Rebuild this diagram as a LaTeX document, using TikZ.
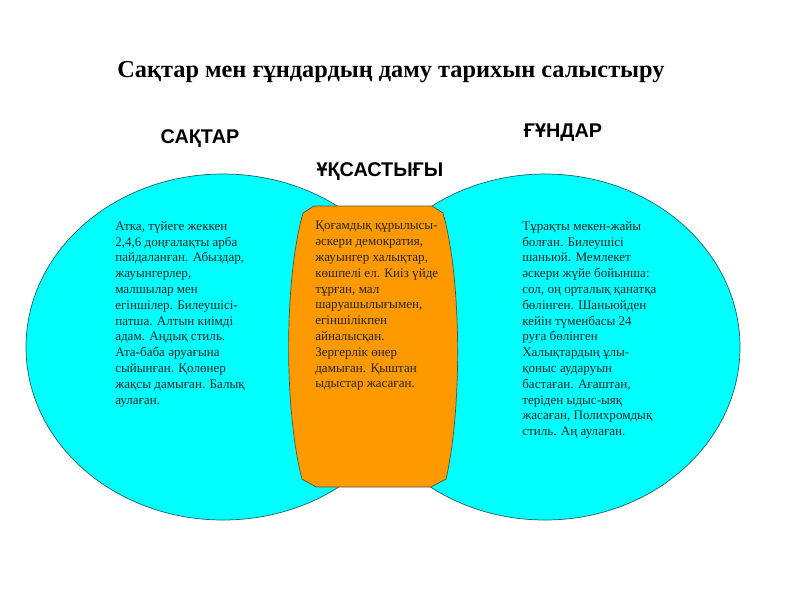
\documentclass[tikz,border=0pt]{standalone}
\usepackage{fontspec}
\setmainfont{Liberation Serif}
\newfontfamily\headfont{Liberation Sans}
\definecolor{vncyan}{RGB}{0,255,255}
\definecolor{vnorange}{RGB}{255,153,0}
\definecolor{vnedge}{RGB}{30,100,100}
\definecolor{vnbrown}{RGB}{95,80,50}

\begin{document}
\begin{tikzpicture}[x=0.025cm, y=-0.025cm,
    every node/.style={inner sep=0pt},
    headlabel/.style={font=\headfont\fontsize{14.1}{16}\selectfont\bfseries, anchor=base},
    bodytext/.style={font=\fontsize{9.3}{11.24}\selectfont, align=left, anchor=north west, text=black!85}]
    \useasboundingbox (0,0) rectangle (800,600);

    % Title
    \node[anchor=base, font=\fontsize{17.3}{20}\selectfont\bfseries] (title) at (391,77) {Сақтар мен ғұндардың даму тарихын салыстыру};

    % Two circles
    \draw[fill=vncyan, draw=vnedge, line width=0.5pt] (223,347) ellipse [x radius=197, y radius=173];
    \draw[fill=vncyan, draw=vnedge, line width=0.5pt] (545,347) ellipse [x radius=195, y radius=173];

    % Common part
    \draw[fill=vnorange, draw=vnbrown, line width=0.5pt]
        (314,206) -- (432,206) -- (443,213) .. controls (462,280) and (462,410) .. (446,479)
        -- (431,487) -- (316,487) -- (302,479) .. controls (284,410) and (284,280) .. (303,213) -- cycle;

    % Headings
    \node[headlabel] (saktar) at (200,143) {САҚТАР};
    \node[headlabel] (ukstyk) at (380,176) {ҰҚСАСТЫҒЫ};
    \node[headlabel] (gundar) at (563,137) {ҒҰНДАР};

    % Texts
    \node[bodytext] (saktartext) at (115,221) {Атка, түйеге жеккен\\2,4,6 доңғалақты арба\\пайдаланған. Абыздар,\\жауынгерлер,\\малшылар мен\\егіншілер. Билеушісі-\\патша. Алтын киімді\\адам. Аңдық стиль.\\Ата-баба әруағына\\сыйынған. Қолөнер\\жақсы дамыған. Балық\\аулаған.};
    \node[bodytext] (ukstyktext) at (315,221) {Қоғамдық құрылысы-\\әскери демократия,\\жауынгер халықтар,\\көшпелі ел. Киіз үйде\\тұрған, мал\\шаруашылығымен,\\егіншілікпен\\айналысқан.\\Зергерлік өнер\\дамыған. Қыштан\\ыдыстар жасаған.};
    \node[bodytext] (gundartext) at (522,221) {Тұрақты мекен-жайы\\болған. Билеушісі\\шаньюй. Мемлекет\\әскери жүйе бойынша:\\сол, оң орталық қанатқа\\бөлінген. Шаньюйден\\кейін түменбасы 24\\руға бөлінген\\Халықтардың ұлы-\\қоныс аударуын\\бастаған. Ағаштан,\\теріден ыдыс-ыяқ\\жасаған, Полихромдық\\стиль. Аң аулаған.};
\end{tikzpicture}
\end{document}
